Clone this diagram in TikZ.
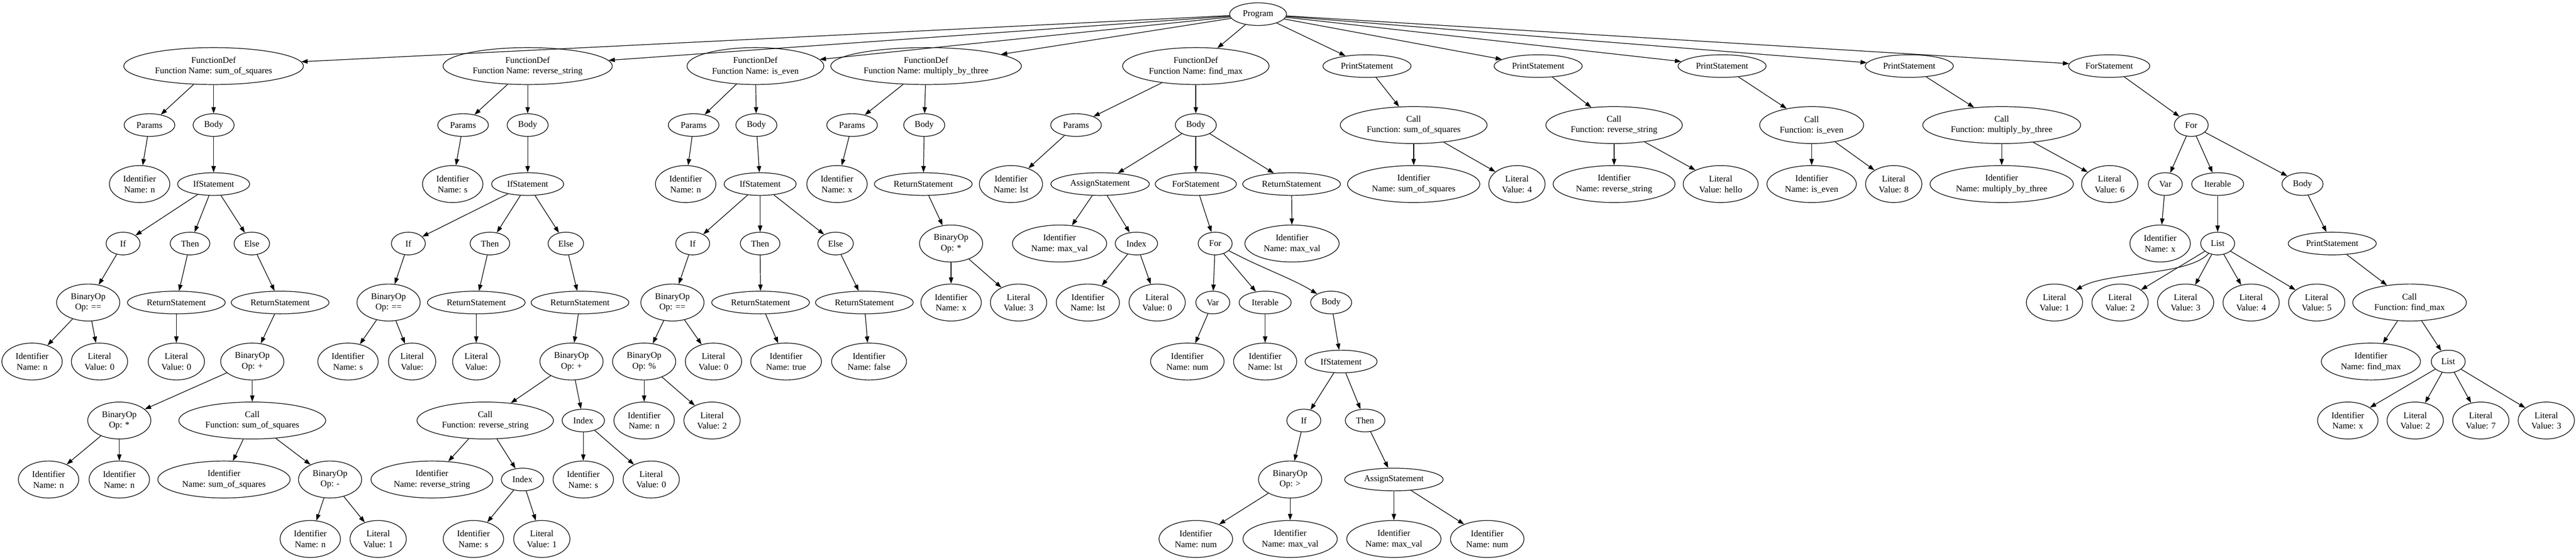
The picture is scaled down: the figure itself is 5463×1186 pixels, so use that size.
\documentclass[tikz,border=0pt]{standalone}
\usepackage{fontspec}
\setmainfont{Liberation Serif}
\usetikzlibrary{shapes.geometric, arrows.meta}
\tikzset{
astnode/.style={draw, ellipse, line width=1pt, inner xsep=7.92pt, inner ysep=3.96pt,
  minimum width=54pt, minimum height=36pt, align=center,
  font=\fontsize{14pt}{16.8pt}\selectfont},
twoline/.style={astnode, minimum height=58.7pt},
astlink/.style={line width=1pt, -{Triangle[length=10pt,width=7pt]}}
}

\begin{document}
\begin{tikzpicture}[x=0.75pt, y=-0.75pt]
\useasboundingbox (0,0) rectangle (5463,1186);
\node[astnode] (prog) at (2668,30) {Program};

\node[twoline] (fd1) at (453,140) {FunctionDef\\Function Name: sum\_of\_squares};
\node[astnode] (params1) at (317,265) {Params};
\node[astnode] (body1) at (453,265) {Body};
\node[twoline] (id1) at (296,390) {Identifier\\Name: n};
\node[astnode] (ifs1) at (453,390) {IfStatement};
\node[astnode] (if1) at (261,516) {If};
\node[astnode] (then1) at (403,516) {Then};
\node[astnode] (else1) at (534,516) {Else};
\node[twoline] (bin1) at (187,641) {BinaryOp\\Op: ==};
\node[astnode] (ret1a) at (374,641) {ReturnStatement};
\node[astnode] (ret1b) at (594,641) {ReturnStatement};
\node[twoline] (id1a) at (68,766) {Identifier\\Name: n};
\node[twoline] (lit1a) at (211,766) {Literal\\Value: 0};
\node[twoline] (lit1b) at (374,766) {Literal\\Value: 0};
\node[twoline] (bin1b) at (535,766) {BinaryOp\\Op: +};
\node[twoline] (bin1c) at (253,891) {BinaryOp\\Op: *};
\node[twoline] (call1) at (535,891) {Call\\Function: sum\_of\_squares};
\node[twoline] (id1b) at (103,1016) {Identifier\\Name: n};
\node[twoline] (id1c) at (253,1016) {Identifier\\Name: n};
\node[twoline] (id1d) at (475,1016) {Identifier\\Name: sum\_of\_squares};
\node[twoline] (bin1d) at (700,1016) {BinaryOp\\Op: -};
\node[twoline] (id1e) at (658,1142) {Identifier\\Name: n};
\node[twoline] (lit1c) at (802,1142) {Literal\\Value: 1};

\node[twoline] (fd2) at (1119,140) {FunctionDef\\Function Name: reverse\_string};
\node[astnode] (params2) at (982,265) {Params};
\node[astnode] (body2) at (1119,265) {Body};
\node[twoline] (id2) at (960,390) {Identifier\\Name: s};
\node[astnode] (ifs2) at (1119,390) {IfStatement};
\node[astnode] (if2) at (866,516) {If};
\node[astnode] (then2) at (1039,516) {Then};
\node[astnode] (else2) at (1200,516) {Else};
\node[twoline] (bin2) at (824,641) {BinaryOp\\Op: ==};
\node[astnode] (ret2a) at (1010,641) {ReturnStatement};
\node[astnode] (ret2b) at (1230,641) {ReturnStatement};
\node[twoline] (id2a) at (738,766) {Identifier\\Name: s};
\node[twoline] (lit2a) at (874,766) {Literal\\Value:};
\node[twoline] (lit2b) at (1010,766) {Literal\\Value:};
\node[twoline] (bin2b) at (1212,766) {BinaryOp\\Op: +};
\node[twoline] (call2) at (1029,891) {Call\\Function: reverse\_string};
\node[astnode] (idx2) at (1237,891) {Index};
\node[twoline] (id2b) at (916,1016) {Identifier\\Name: reverse\_string};
\node[astnode] (idx2b) at (1108,1016) {Index};
\node[twoline] (id2c) at (1237,1016) {Identifier\\Name: s};
\node[twoline] (lit2c) at (1381,1016) {Literal\\Value: 0};
\node[twoline] (id2d) at (1004,1142) {Identifier\\Name: s};
\node[twoline] (lit2d) at (1149,1142) {Literal\\Value: 1};

\node[twoline] (fd3) at (1602,140) {FunctionDef\\Function Name: is\_even};
\node[astnode] (params3) at (1471,265) {Params};
\node[astnode] (body3) at (1604,265) {Body};
\node[twoline] (id3) at (1454,390) {Identifier\\Name: n};
\node[astnode] (ifs3) at (1612,390) {IfStatement};
\node[astnode] (if3) at (1469,516) {If};
\node[astnode] (then3) at (1612,516) {Then};
\node[astnode] (else3) at (1772,516) {Else};
\node[twoline] (bin3) at (1426,641) {BinaryOp\\Op: ==};
\node[astnode] (ret3a) at (1613,641) {ReturnStatement};
\node[astnode] (ret3b) at (1833,641) {ReturnStatement};
\node[twoline] (bin3b) at (1366,766) {BinaryOp\\Op: \%};
\node[twoline] (lit3a) at (1513,766) {Literal\\Value: 0};
\node[twoline] (id3a) at (1667,766) {Identifier\\Name: true};
\node[twoline] (id3b) at (1843,766) {Identifier\\Name: false};
\node[twoline] (id3c) at (1366,891) {Identifier\\Name: n};
\node[twoline] (lit3b) at (1510,891) {Literal\\Value: 2};

\node[twoline] (fd4) at (1964,140) {FunctionDef\\Function Name: multiply\_by\_three};
\node[astnode] (params4) at (1807,265) {Params};
\node[astnode] (body4) at (1960,265) {Body};
\node[twoline] (id4) at (1775,390) {Identifier\\Name: x};
\node[astnode] (ret4) at (1958,390) {ReturnStatement};
\node[twoline] (bin4) at (2017,516) {BinaryOp\\Op: *};
\node[twoline] (id4a) at (2017,641) {Identifier\\Name: x};
\node[twoline] (lit4a) at (2160,641) {Literal\\Value: 3};

\node[twoline] (fd5) at (2536,140) {FunctionDef\\Function Name: find\_max};
\node[astnode] (params5) at (2282,265) {Params};
\node[astnode] (body5) at (2536,265) {Body};
\node[twoline] (id5) at (2144,390) {Identifier\\Name: lst};
\node[astnode] (asg5) at (2333,390) {AssignStatement};
\node[astnode] (fst5) at (2536,390) {ForStatement};
\node[astnode] (ret5) at (2739,390) {ReturnStatement};
\node[twoline] (id5a) at (2247,516) {Identifier\\Name: max\_val};
\node[astnode] (idx5) at (2410,516) {Index};
\node[astnode] (for5) at (2577,516) {For};
\node[twoline] (id5b) at (2740,516) {Identifier\\Name: max\_val};
\node[twoline] (id5c) at (2307,641) {Identifier\\Name: lst};
\node[twoline] (lit5a) at (2454,641) {Literal\\Value: 0};
\node[astnode] (var5) at (2572,641) {Var};
\node[astnode] (iter5) at (2683,641) {Iterable};
\node[astnode] (body5b) at (2823,641) {Body};
\node[twoline] (id5d) at (2518,766) {Identifier\\Name: num};
\node[twoline] (id5e) at (2683,766) {Identifier\\Name: lst};
\node[astnode] (ifs5) at (2844,766) {IfStatement};
\node[astnode] (if5) at (2765,891) {If};
\node[astnode] (then5) at (2895,891) {Then};
\node[twoline] (bin5) at (2736,1016) {BinaryOp\\Op: >};
\node[astnode] (asg5b) at (2956,1016) {AssignStatement};
\node[twoline] (id5f) at (2536,1142) {Identifier\\Name: num};
\node[twoline] (id5g) at (2736,1142) {Identifier\\Name: max\_val};
\node[twoline] (id5h) at (2956,1142) {Identifier\\Name: max\_val};
\node[twoline] (id5i) at (3154,1142) {Identifier\\Name: num};

\node[astnode] (ps1) at (2899,140) {PrintStatement};
\node[twoline] (call6) at (2998,265) {Call\\Function: sum\_of\_squares};
\node[twoline] (id6) at (2998,390) {Identifier\\Name: sum\_of\_squares};
\node[twoline] (lit6) at (3217,390) {Literal\\Value: 4};
\node[astnode] (ps2) at (3262,140) {PrintStatement};
\node[twoline] (call7) at (3423,265) {Call\\Function: reverse\_string};
\node[twoline] (id7) at (3423,390) {Identifier\\Name: reverse\_string};
\node[twoline] (lit7) at (3649,390) {Literal\\Value: hello};
\node[astnode] (ps3) at (3652,140) {PrintStatement};
\node[twoline] (call8) at (3842,265) {Call\\Function: is\_even};
\node[twoline] (id8) at (3842,390) {Identifier\\Name: is\_even};
\node[twoline] (lit8) at (4016,390) {Literal\\Value: 8};
\node[astnode] (ps4) at (4049,140) {PrintStatement};
\node[twoline] (call9) at (4245,265) {Call\\Function: multiply\_by\_three};
\node[twoline] (id9) at (4245,390) {Identifier\\Name: multiply\_by\_three};
\node[twoline] (lit9) at (4474,390) {Literal\\Value: 6};

\node[astnode] (fst) at (4473,140) {ForStatement};
\node[astnode] (for6) at (4647,265) {For};
\node[astnode] (var6) at (4592,390) {Var};
\node[astnode] (iter6) at (4703,390) {Iterable};
\node[astnode] (body6) at (4883,390) {Body};
\node[twoline] (id6x) at (4581,516) {Identifier\\Name: x};
\node[astnode] (list6) at (4703,516) {List};
\node[astnode] (ps6) at (4946,516) {PrintStatement};
\node[twoline] (lst1) at (4357,641) {Literal\\Value: 1};
\node[twoline] (lst2) at (4496,641) {Literal\\Value: 2};
\node[twoline] (lst3) at (4635,641) {Literal\\Value: 3};
\node[twoline] (lst4) at (4774,641) {Literal\\Value: 4};
\node[twoline] (lst5) at (4913,641) {Literal\\Value: 5};
\node[twoline] (call10) at (5110,641) {Call\\Function: find\_max};
\node[twoline] (id10) at (5028,766) {Identifier\\Name: find\_max};
\node[astnode] (list10) at (5192,766) {List};
\node[twoline] (id10x) at (4979,891) {Identifier\\Name: x};
\node[twoline] (lit10a) at (5122,891) {Literal\\Value: 2};
\node[twoline] (lit10b) at (5261,891) {Literal\\Value: 7};
\node[twoline] (lit10c) at (5400,891) {Literal\\Value: 3};

\draw[astlink] (prog) -- (fd1);
\draw[astlink] (prog) -- (fd2);
\draw[astlink] (prog) -- (fd3);
\draw[astlink] (prog) -- (fd4);
\draw[astlink] (prog) -- (fd5);
\draw[astlink] (prog) -- (ps1);
\draw[astlink] (prog) -- (ps2);
\draw[astlink] (prog) -- (ps3);
\draw[astlink] (prog) -- (ps4);
\draw[astlink] (prog) -- (fst);

\draw[astlink] (fd1) -- (params1);
\draw[astlink] (fd1) -- (body1);
\draw[astlink] (params1) -- (id1);
\draw[astlink] (body1) -- (ifs1);
\draw[astlink] (ifs1) -- (if1);
\draw[astlink] (ifs1) -- (then1);
\draw[astlink] (ifs1) -- (else1);
\draw[astlink] (if1) -- (bin1);
\draw[astlink] (then1) -- (ret1a);
\draw[astlink] (else1) -- (ret1b);
\draw[astlink] (bin1) -- (id1a);
\draw[astlink] (bin1) -- (lit1a);
\draw[astlink] (ret1a) -- (lit1b);
\draw[astlink] (ret1b) -- (bin1b);
\draw[astlink] (bin1b) -- (bin1c);
\draw[astlink] (bin1b) -- (call1);
\draw[astlink] (bin1c) -- (id1b);
\draw[astlink] (bin1c) -- (id1c);
\draw[astlink] (call1) -- (id1d);
\draw[astlink] (call1) -- (bin1d);
\draw[astlink] (bin1d) -- (id1e);
\draw[astlink] (bin1d) -- (lit1c);

\draw[astlink] (fd2) -- (params2);
\draw[astlink] (fd2) -- (body2);
\draw[astlink] (params2) -- (id2);
\draw[astlink] (body2) -- (ifs2);
\draw[astlink] (ifs2) -- (if2);
\draw[astlink] (ifs2) -- (then2);
\draw[astlink] (ifs2) -- (else2);
\draw[astlink] (if2) -- (bin2);
\draw[astlink] (then2) -- (ret2a);
\draw[astlink] (else2) -- (ret2b);
\draw[astlink] (bin2) -- (id2a);
\draw[astlink] (bin2) -- (lit2a);
\draw[astlink] (ret2a) -- (lit2b);
\draw[astlink] (ret2b) -- (bin2b);
\draw[astlink] (bin2b) -- (call2);
\draw[astlink] (bin2b) -- (idx2);
\draw[astlink] (call2) -- (id2b);
\draw[astlink] (call2) -- (idx2b);
\draw[astlink] (idx2) -- (id2c);
\draw[astlink] (idx2) -- (lit2c);
\draw[astlink] (idx2b) -- (id2d);
\draw[astlink] (idx2b) -- (lit2d);

\draw[astlink] (fd3) -- (params3);
\draw[astlink] (fd3) -- (body3);
\draw[astlink] (params3) -- (id3);
\draw[astlink] (body3) -- (ifs3);
\draw[astlink] (ifs3) -- (if3);
\draw[astlink] (ifs3) -- (then3);
\draw[astlink] (ifs3) -- (else3);
\draw[astlink] (if3) -- (bin3);
\draw[astlink] (then3) -- (ret3a);
\draw[astlink] (else3) -- (ret3b);
\draw[astlink] (bin3) -- (bin3b);
\draw[astlink] (bin3) -- (lit3a);
\draw[astlink] (ret3a) -- (id3a);
\draw[astlink] (ret3b) -- (id3b);
\draw[astlink] (bin3b) -- (id3c);
\draw[astlink] (bin3b) -- (lit3b);

\draw[astlink] (fd4) -- (params4);
\draw[astlink] (fd4) -- (body4);
\draw[astlink] (params4) -- (id4);
\draw[astlink] (body4) -- (ret4);
\draw[astlink] (ret4) -- (bin4);
\draw[astlink] (bin4) -- (id4a);
\draw[astlink] (bin4) -- (lit4a);

\draw[astlink] (fd5) -- (params5);
\draw[astlink] (fd5) -- (body5);
\draw[astlink] (params5) -- (id5);
\draw[astlink] (body5) -- (asg5);
\draw[astlink] (body5) -- (fst5);
\draw[astlink] (body5) -- (ret5);
\draw[astlink] (asg5) -- (id5a);
\draw[astlink] (asg5) -- (idx5);
\draw[astlink] (fst5) -- (for5);
\draw[astlink] (ret5) -- (id5b);
\draw[astlink] (idx5) -- (id5c);
\draw[astlink] (idx5) -- (lit5a);
\draw[astlink] (for5) -- (var5);
\draw[astlink] (for5) -- (iter5);
\draw[astlink] (for5) .. controls (2680,570) and (2740,590) .. (body5b);
\draw[astlink] (var5) -- (id5d);
\draw[astlink] (iter5) -- (id5e);
\draw[astlink] (body5b) -- (ifs5);
\draw[astlink] (ifs5) -- (if5);
\draw[astlink] (ifs5) -- (then5);
\draw[astlink] (if5) -- (bin5);
\draw[astlink] (then5) -- (asg5b);
\draw[astlink] (bin5) -- (id5f);
\draw[astlink] (bin5) -- (id5g);
\draw[astlink] (asg5b) -- (id5h);
\draw[astlink] (asg5b) -- (id5i);

\draw[astlink] (ps1) -- (call6);
\draw[astlink] (call6) -- (id6);
\draw[astlink] (call6) -- (lit6);
\draw[astlink] (ps2) -- (call7);
\draw[astlink] (call7) -- (id7);
\draw[astlink] (call7) -- (lit7);
\draw[astlink] (ps3) -- (call8);
\draw[astlink] (call8) -- (id8);
\draw[astlink] (call8) -- (lit8);
\draw[astlink] (ps4) -- (call9);
\draw[astlink] (call9) -- (id9);
\draw[astlink] (call9) -- (lit9);

\draw[astlink] (fst) -- (for6);
\draw[astlink] (for6) -- (var6);
\draw[astlink] (for6) -- (iter6);
\draw[astlink] (for6) -- (body6);
\draw[astlink] (var6) -- (id6x);
\draw[astlink] (iter6) -- (list6);
\draw[astlink] (body6) -- (ps6);
\draw[astlink] (list6) .. controls (4640,585) and (4470,575) .. (lst1);
\draw[astlink] (list6) -- (lst2);
\draw[astlink] (list6) -- (lst3);
\draw[astlink] (list6) -- (lst4);
\draw[astlink] (list6) -- (lst5);
\draw[astlink] (ps6) -- (call10);
\draw[astlink] (call10) -- (id10);
\draw[astlink] (call10) -- (list10);
\draw[astlink] (list10) -- (id10x);
\draw[astlink] (list10) -- (lit10a);
\draw[astlink] (list10) -- (lit10b);
\draw[astlink] (list10) -- (lit10c);
\end{tikzpicture}
\end{document}
